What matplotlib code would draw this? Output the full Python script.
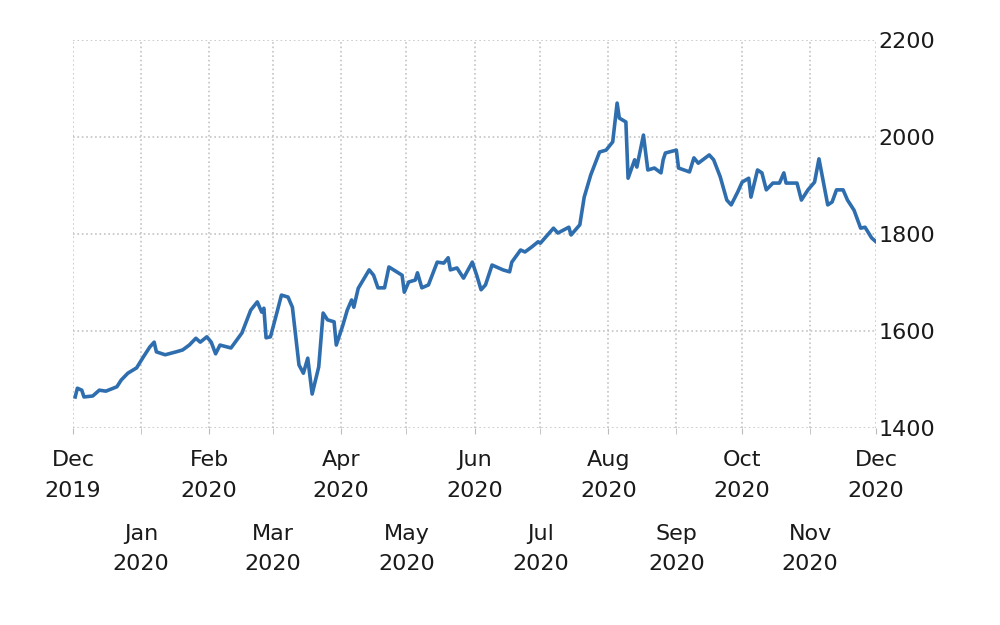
import datetime as dt
import matplotlib as mpl
mpl.use('Agg')
import matplotlib.pyplot as plt
import matplotlib.dates as mdates

# gold price
dates = [
  '2019-12-02', '2019-12-03', '2019-12-05', '2019-12-06', '2019-12-10', '2019-12-13',
  '2019-12-16', '2019-12-21', '2019-12-23', '2019-12-26', '2019-12-30', '2020-01-02',
  '2020-01-05', '2020-01-07', '2020-01-08', '2020-01-12', '2020-01-17', '2020-01-20',
  '2020-01-23', '2020-01-26', '2020-01-28', '2020-01-31', '2020-02-02', '2020-02-04',
  '2020-02-06', '2020-02-11', '2020-02-16', '2020-02-20', '2020-02-23', '2020-02-25',
  '2020-02-26', '2020-02-27', '2020-02-29', '2020-03-03', '2020-03-05', '2020-03-08',
  '2020-03-10', '2020-03-13', '2020-03-15', '2020-03-17', '2020-03-19', '2020-03-22',
  '2020-03-24', '2020-03-26', '2020-03-29', '2020-03-30', '2020-04-02', '2020-04-04',
  '2020-04-06', '2020-04-07', '2020-04-09', '2020-04-14', '2020-04-16', '2020-04-18',
  '2020-04-21', '2020-04-23', '2020-04-29', '2020-04-30', '2020-05-02', '2020-05-05',
  '2020-05-06', '2020-05-08', '2020-05-11', '2020-05-15', '2020-05-18', '2020-05-20',
  '2020-05-21', '2020-05-24', '2020-05-27', '2020-05-31', '2020-06-02', '2020-06-04',
  '2020-06-06', '2020-06-09', '2020-06-14', '2020-06-17', '2020-06-18', '2020-06-22',
  '2020-06-24', '2020-06-27', '2020-06-30', '2020-07-01', '2020-07-07', '2020-07-09',
  '2020-07-14', '2020-07-15', '2020-07-19', '2020-07-21', '2020-07-24', '2020-07-28',
  '2020-07-31', '2020-08-03', '2020-08-05', '2020-08-06', '2020-08-09', '2020-08-10',
  '2020-08-13', '2020-08-14', '2020-08-17', '2020-08-19', '2020-08-22', '2020-08-25',
  '2020-08-26', '2020-08-27', '2020-09-01', '2020-09-02', '2020-09-07', '2020-09-09',
  '2020-09-11', '2020-09-16', '2020-09-18', '2020-09-21', '2020-09-24', '2020-09-26',
  '2020-09-29', '2020-10-01', '2020-10-04', '2020-10-05', '2020-10-08', '2020-10-10',
  '2020-10-12', '2020-10-15', '2020-10-18', '2020-10-20', '2020-10-21', '2020-10-26',
  '2020-10-28', '2020-10-31', '2020-11-03', '2020-11-05', '2020-11-09', '2020-11-11',
  '2020-11-13', '2020-11-16', '2020-11-18', '2020-11-21', '2020-11-24', '2020-11-26',
  '2020-11-29', '2020-12-01',
]
prices = [
  1464, 1482, 1478, 1464, 1466, 1478,
  1476, 1485, 1499, 1513, 1524, 1546,
  1567, 1577, 1557, 1551, 1557, 1561,
  1571, 1585, 1577, 1588, 1577, 1553,
  1571, 1565, 1596, 1643, 1660, 1639,
  1647, 1586, 1588, 1639, 1674, 1670,
  1649, 1530, 1513, 1544, 1470, 1526,
  1637, 1623, 1619, 1571, 1612, 1643,
  1664, 1649, 1688, 1726, 1715, 1689,
  1689, 1732, 1715, 1680, 1701, 1705,
  1720, 1689, 1695, 1742, 1740, 1751,
  1726, 1730, 1709, 1742, 1715, 1685,
  1695, 1736, 1726, 1722, 1742, 1767,
  1763, 1773, 1784, 1781, 1812, 1802,
  1814, 1798, 1819, 1876, 1922, 1969,
  1973, 1990, 2070, 2039, 2031, 1915,
  1953, 1938, 2004, 1932, 1936, 1926,
  1953, 1967, 1973, 1936, 1928, 1957,
  1946, 1963, 1953, 1918, 1870, 1860,
  1887, 1907, 1915, 1876, 1932, 1926,
  1891, 1905, 1905, 1926, 1905, 1905,
  1870, 1891, 1907, 1955, 1860, 1866,
  1891, 1891, 1870, 1849, 1812, 1814,
  1792, 1784,
]
y_ticks = [1400, 1600, 1800, 2000, 2200]

x = [dt.datetime.strptime(d, '%Y-%m-%d') for d in dates]

fig = plt.figure(figsize=(10, 6.25), dpi=100)
ax = fig.add_axes([0.073, 0.3152, 0.803, 0.6208])

ax.plot(x, prices, color='#2f6eae', linewidth=2.6, solid_joinstyle='round')

ax.set_xlim(dt.datetime(2019, 12, 1), dt.datetime(2020, 12, 1))
ax.set_ylim(1400, 2200)
ax.set_yticks(y_ticks)

# top row of month labels on major ticks, second row on minor ticks
ax.xaxis.set_major_locator(mdates.MonthLocator(bymonth=[12, 2, 4, 6, 8, 10]))
ax.xaxis.set_minor_locator(mdates.MonthLocator(bymonth=[1, 3, 5, 7, 9, 11]))
ax.xaxis.set_major_formatter(mdates.DateFormatter('%b\n%Y'))
ax.xaxis.set_minor_formatter(mdates.DateFormatter('%b\n%Y'))

ax.tick_params(axis='x', which='major', length=4, pad=12, color='#bbbbbb',
               labelsize=16, labelcolor='#1a1a1a')
ax.tick_params(axis='x', which='minor', length=4, pad=65, color='#bbbbbb',
               labelsize=16, labelcolor='#1a1a1a')
for lab in ax.get_xticklabels(which='both'):
  lab.set_linespacing(1.65)

ax.yaxis.tick_right()
ax.tick_params(axis='y', length=0, pad=2, labelsize=16, labelcolor='#1a1a1a')

ax.grid(True, which='both', axis='x', linestyle=':', color='#c4c4c4', linewidth=1.2)
ax.grid(True, axis='y', linestyle=':', color='#c4c4c4', linewidth=1.2)
ax.set_axisbelow(True)
for side in ['top', 'bottom', 'left', 'right']:
  ax.spines[side].set_visible(False)

fig.savefig('out.png')
